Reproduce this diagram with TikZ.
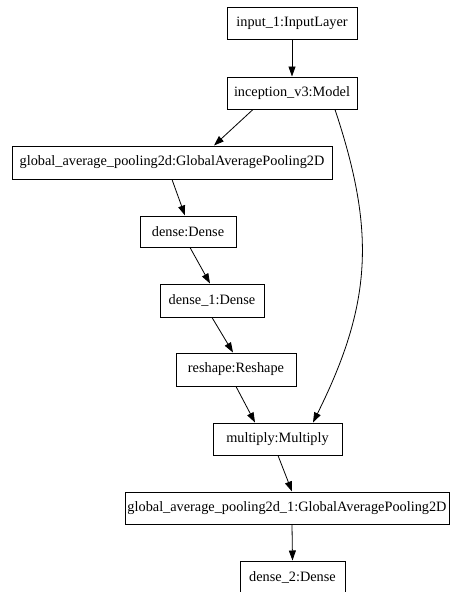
\documentclass[tikz,border=0pt]{standalone}
\usepackage{fontspec}
\setmainfont{Liberation Serif}
\usetikzlibrary{arrows.meta}
\begin{document}
\begin{tikzpicture}[x=1pt,y=-1pt,
  layer/.style={draw,line width=1pt,inner sep=0pt,font=\fontsize{14.3}{16}\selectfont},
  edge/.style={line width=0.8pt,-{Triangle[length=10pt,width=7pt]}}]
\useasboundingbox (0,0) rectangle (451,592);
\node[layer,minimum width=130pt,minimum height=32pt] (in) at (292,23) {input\_1:InputLayer};
\node[layer,minimum width=130pt,minimum height=32pt] (inc) at (292,93) {inception\_v3:Model};
\node[layer,minimum width=320pt,minimum height=33pt] (gap) at (172,162.5) {global\_average\_pooling2d:GlobalAveragePooling2D};
\node[layer,minimum width=96pt,minimum height=31pt] (d) at (188,231.5) {dense:Dense};
\node[layer,minimum width=104pt,minimum height=33pt] (d1) at (212,300.5) {dense\_1:Dense};
\node[layer,minimum width=120pt,minimum height=33pt] (rs) at (236,369.5) {reshape:Reshape};
\node[layer,minimum width=129pt,minimum height=32pt] (mul) at (277.5,439) {multiply:Multiply};
\node[layer,minimum width=324pt,minimum height=32pt] (gap1) at (287,508) {global\_average\_pooling2d\_1:GlobalAveragePooling2D};
\node[layer,minimum width=105pt,minimum height=32pt] (d2) at (292.5,577) {dense\_2:Dense};
\draw[edge] (in.south) -- (inc.north);
\draw[edge] ([xshift=-39pt]inc.south) -- ([xshift=42pt]gap.north);
\draw[edge] ([xshift=43pt]inc.south) .. controls (375,230) and (373,302) .. ([xshift=35.5pt]mul.north);
\draw[edge] (gap.south) -- ([xshift=-3pt]d.north);
\draw[edge] ([xshift=2pt]d.south) -- ([xshift=-2pt]d1.north);
\draw[edge] (d1.south) -- ([xshift=-3pt]rs.north);
\draw[edge] (rs.south) -- ([xshift=-22.5pt]mul.north);
\draw[edge] ([xshift=0.5pt]mul.south) -- ([xshift=5pt]gap1.north);
\draw[edge] ([xshift=5pt]gap1.south) -- (d2.north);
\end{tikzpicture}
\end{document}
